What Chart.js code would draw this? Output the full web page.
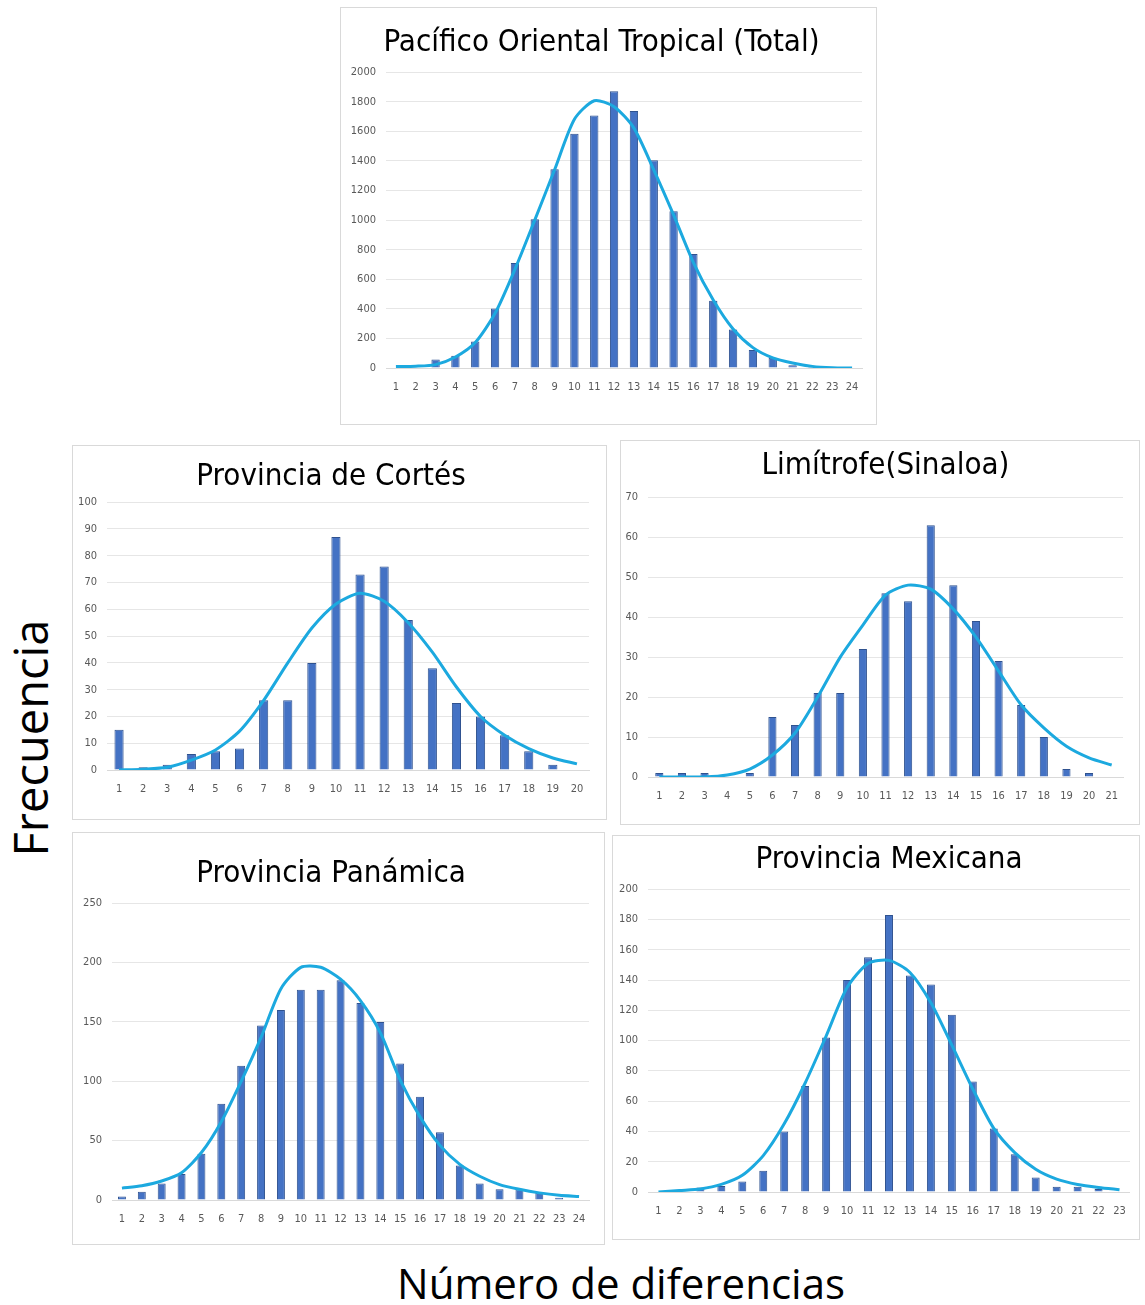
<!DOCTYPE html>
<html>
<head>
<meta charset="utf-8">
<script src="https://cdn.jsdelivr.net/npm/chart.js@4.4.0/dist/chart.umd.min.js"></script>
<style>
    body { margin: 0; background: #fff; width: 1145px; height: 1305px; position: relative; overflow: hidden; }
    .panel { position: absolute; border: 1px solid #d9d9d9; box-sizing: border-box; background: #fff; }
    .axis-title { position: absolute; font-family: "Open Sans", sans-serif; color: #000; white-space: nowrap; }
</style>
</head>
<body>
<div class="panel" style="left:340px; top:7px; width:537px; height:418px;"><canvas id="chart-total"></canvas></div>
<div class="panel" style="left:72px; top:445px; width:535px; height:375px;"><canvas id="chart-cortes"></canvas></div>
<div class="panel" style="left:620px; top:440px; width:520px; height:385px;"><canvas id="chart-sinaloa"></canvas></div>
<div class="panel" style="left:72px; top:832px; width:533px; height:413px;"><canvas id="chart-panamica"></canvas></div>
<div class="panel" style="left:612px; top:835px; width:528px; height:405px;"><canvas id="chart-mexicana"></canvas></div>

<div class="axis-title" id="y-title" style="left:30px; top:738px; font-size:47px; transform: translate(-50%, -50%) rotate(-90deg);">Frecuencia</div>
<div class="axis-title" id="x-title" style="left:621px; top:1282px; font-size:42px; transform: translate(-50%, -50%);">Número de diferencias</div>

<script>
// Pacífico Oriental Tropical (Total)
const totalCats = ['1','2','3','4','5','6','7','8','9','10','11','12','13','14','15','16','17','18','19','20','21','22','23','24'];
const totalBars = [0, 0, 57, 82, 180, 402, 710, 1005, 1344, 1584, 1707, 1871, 1738, 1405, 1060, 770, 455, 260, 122, 69, 18, 7, 0, 0];
const totalCurve = [10, 12, 23, 74, 172, 370, 667, 1000, 1340, 1682, 1807, 1767, 1622, 1340, 1035, 713, 460, 264, 138, 69, 34, 11, 2, 0];

// Provincia de Cortés
const cortesCats = ['1','2','3','4','5','6','7','8','9','10','11','12','13','14','15','16','17','18','19','20'];
const cortesBars = [15, 1, 2, 6, 7, 8, 26, 26, 40, 87, 73, 76, 56, 38, 25, 20, 13, 7, 2, 0];
const cortesCurve = [0, 0.3, 1, 3.7, 7.5, 14.5, 26, 40, 53, 62, 66, 63, 55, 44, 31, 20, 13, 8, 4.5, 2.3];

// Limítrofe (Sinaloa)
const sinaloaCats = ['1','2','3','4','5','6','7','8','9','10','11','12','13','14','15','16','17','18','19','20','21'];
const sinaloaBars = [1, 1, 1, 0, 1, 15, 13, 21, 21, 32, 46, 44, 63, 48, 39, 29, 18, 10, 2, 1, 0];
const sinaloaCurve = [0, 0, 0, 0.5, 2, 5.5, 11, 20, 30, 38, 45.5, 48, 47, 42, 35, 26.5, 18, 12.3, 7.7, 4.8, 3];

// Provincia Panámica
const panamicaCats = ['1','2','3','4','5','6','7','8','9','10','11','12','13','14','15','16','17','18','19','20','21','22','23','24'];
const panamicaBars = [3, 7, 14, 22, 39, 81, 113, 147, 160, 177, 177, 185, 166, 150, 115, 87, 57, 29, 14, 9, 9, 6, 2, 0];
const panamicaCurve = [10, 12, 16, 23, 40, 66, 100, 137, 178, 196, 196, 186, 168, 141, 101, 70, 46, 30, 20, 13, 9, 6, 4, 3];

// Provincia Mexicana
const mexicanaCats = ['1','2','3','4','5','6','7','8','9','10','11','12','13','14','15','16','17','18','19','20','21','22','23'];
const mexicanaBars = [0, 0.5, 3, 4, 7, 14, 40, 70, 102, 140, 155, 183, 143, 137, 117, 73, 42, 25, 9.5, 3.5, 3.5, 2, 0];
const mexicanaCurve = [0, 1, 2, 5, 11, 24, 45, 72, 103, 135, 151, 153, 145, 125, 97, 68, 42, 26, 15, 8.5, 5, 3, 1.5];

const narrowFont = '"Liberation Sans Narrow", "DejaVu Sans Condensed", sans-serif';
const barColor = '#4472C4';
const barEdge = '#2F528F';
const curveColor = '#1CA9DF';

// Crea un gráfico de barras + curva con el área de trazado fijada
function makeChart(id, title, cats, bars, curve, yMax, yStep, box) {
    const ctx = document.getElementById(id).getContext('2d');
    return new Chart(ctx, {
        data: {
            labels: cats,
            datasets: [
                {
                    type: 'line',
                    data: curve,
                    borderColor: curveColor,
                    borderWidth: 3,
                    pointRadius: 0,
                    tension: 0.25,
                    fill: false,
                    order: 0
                },
                {
                    type: 'bar',
                    data: bars,
                    backgroundColor: barColor,
                    borderColor: barEdge,
                    borderWidth: 1,
                    categoryPercentage: 1,
                    barPercentage: box.barPct,
                    order: 1
                }
            ]
        },
        options: {
            responsive: true,
            maintainAspectRatio: false,
            animation: false,
            layout: { padding: { left: 0, right: box.padRight, top: 0, bottom: 0 } },
            plugins: {
                legend: { display: false },
                tooltip: { enabled: false },
                title: {
                    display: true,
                    text: title,
                    color: '#000',
                    fullSize: box.titleFull,
                    font: { family: narrowFont, size: 31, weight: 'normal', lineHeight: 1.2 },
                    padding: { top: box.titleTop, bottom: box.titleBottom }
                }
            },
            scales: {
                x: {
                    grid: { display: false, drawTicks: false },
                    border: { display: true, color: '#d9d9d9' },
                    ticks: { color: '#595959', font: { family: narrowFont, size: 11 }, padding: 13, maxRotation: 0, autoSkip: false },
                    afterFit: s => { s.height = box.bottom; }
                },
                y: {
                    min: 0,
                    max: yMax,
                    grid: { color: '#e6e6e6', drawTicks: false },
                    border: { display: false },
                    ticks: {
                        stepSize: yStep,
                        color: '#595959',
                        font: { family: narrowFont, size: 11 },
                        padding: 10,
                        callback: v => String(v)
                    },
                    afterFit: s => { s.width = box.left; }
                }
            }
        }
    });
}

makeChart('chart-total', 'Pacífico Oriental Tropical (Total)', totalCats, totalBars, totalCurve, 2000, 200,
    { left: 45, padRight: 14, bottom: 56, titleTop: 16, titleBottom: 11, titleFull: true, barPct: 0.42 });
makeChart('chart-cortes', 'Provincia de Cortés', cortesCats, cortesBars, cortesCurve, 100, 10,
    { left: 34, padRight: 17, bottom: 49, titleTop: 12, titleBottom: 7, titleFull: true, barPct: 0.38 });
makeChart('chart-sinaloa', 'Limítrofe(Sinaloa)', sinaloaCats, sinaloaBars, sinaloaCurve, 70, 10,
    { left: 27, padRight: 16, bottom: 47, titleTop: 6, titleBottom: 13, titleFull: false, barPct: 0.36 });
makeChart('chart-panamica', 'Provincia Panámica', panamicaCats, panamicaBars, panamicaCurve, 250, 50,
    { left: 39, padRight: 15, bottom: 44, titleTop: 22, titleBottom: 11, titleFull: true, barPct: 0.4 });
makeChart('chart-mexicana', 'Provincia Mexicana', mexicanaCats, mexicanaBars, mexicanaCurve, 200, 20,
    { left: 35, padRight: 2, bottom: 47, titleTop: 5, titleBottom: 11, titleFull: false, barPct: 0.38 });
</script>
</body>
</html>
